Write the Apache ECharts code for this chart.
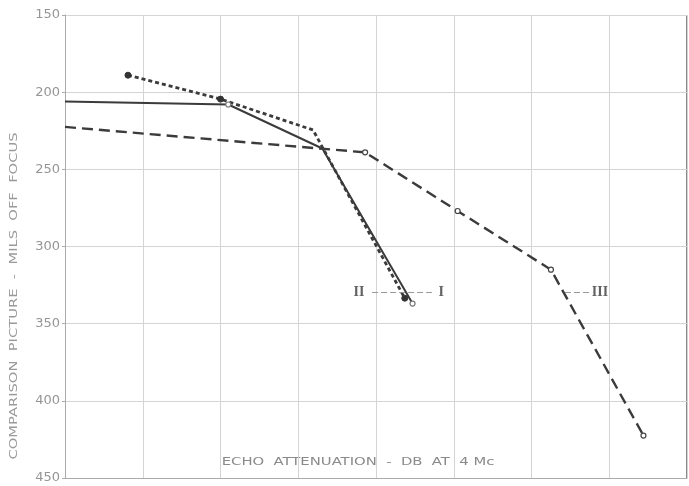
<!DOCTYPE html>
<html>
<head>
<meta charset="utf-8">
<script src="https://cdn.jsdelivr.net/npm/echarts@6/dist/echarts.min.js"></script>
<style>html,body{margin:0;padding:0;background:#fff;}#c{width:689px;height:486px;}</style>
</head>
<body>
<div id="c"></div>
<script>
// Curve I (solid)
const xI = [0, 2.10, 3.31, 4.47];
const yI = [206, 208, 236.5, 337];
// Curve II (dotted)
const xII = [0.81, 2.0, 3.19, 4.37];
const yII = [189, 204.5, 224.5, 333.5];
// Curve III (dashed)
const xIII = [0, 3.86, 5.05, 6.25, 7.44];
const yIII = [222.5, 239, 277, 315, 422.5];
// y tick labels
const yTicks = [150, 200, 250, 300, 350, 400, 450];
// curve annotations
const noteText = ['II', 'I', 'III'];
const noteX = [3.78, 4.84, 6.88];
const noteY = [329.5, 329.5, 329.5];

const zip = (xs, ys) => xs.map((x, i) => [x, ys[i]]);
const lineCol = '#3b3b3b';
const gridCol = '#d4d4d4';

const chart = echarts.init(document.getElementById('c'));
chart.setOption({
  animation: false,
  backgroundColor: '#fff',
  grid: { left: 65, right: 2, top: 15, bottom: 8, containLabel: false },
  xAxis: {
    type: 'value', min: 0, max: 8, interval: 1,
    axisLine: { show: true, lineStyle: { color: '#aaa', width: 1 } },
    axisTick: { show: false },
    axisLabel: { show: false },
    splitLine: { show: true, lineStyle: { color: gridCol, width: 1 } }
  },
  yAxis: {
    type: 'value', inverse: true, min: 150, max: 450, interval: 50,
    axisLine: { show: true, lineStyle: { color: '#aaa', width: 1 } },
    axisTick: { show: true, length: 3, lineStyle: { color: '#aaa' } },
    axisLabel: {
      margin: 5, color: '#959595', fontSize: 13, fontFamily: 'DejaVu Sans',
      formatter: v => yTicks.includes(v) ? String(v) : ''
    },
    splitLine: { show: true, lineStyle: { color: gridCol, width: 1 } }
  },
  graphic: [
    {
      type: 'text', x: 14, y: 296, rotation: Math.PI / 2, scaleX: 1.47,
      style: {
        text: 'COMPARISON  PICTURE  -  MILS  OFF  FOCUS',
        fill: '#9a9a9a', font: '10px "DejaVu Sans"',
        align: 'center', verticalAlign: 'middle'
      }
    },
    {
      type: 'text', x: 358, y: 462, scaleX: 1.48,
      style: {
        text: 'ECHO  ATTENUATION  -  DB  AT  4 Mc',
        fill: '#8a8a8a', font: '10px "DejaVu Sans"',
        align: 'center', verticalAlign: 'middle'
      }
    },
    {
      type: 'rect', shape: { x: 686, y: 15, width: 1, height: 463 },
      style: { fill: '#888' }, silent: true
    }
  ],
  series: [
    {
      name: 'I', type: 'line', data: zip(xI, yI),
      lineStyle: { color: lineCol, width: 2, type: 'solid' },
      itemStyle: { color: '#fff', borderColor: '#777', borderWidth: 1.2 },
      symbol: (v, p) => (p.dataIndex === 1 || p.dataIndex === 3) ? 'circle' : 'none',
      symbolSize: 5, z: 3
    },
    {
      name: 'II', type: 'line', data: zip(xII, yII),
      lineStyle: { color: lineCol, width: 2.8, type: [4, 3] },
      itemStyle: { color: '#333', borderColor: '#333' },
      symbol: (v, p) => p.dataIndex === 2 ? 'none' : 'circle',
      symbolSize: 6, z: 3
    },
    {
      name: 'III', type: 'line', data: zip(xIII, yIII),
      lineStyle: { color: lineCol, width: 2.4, type: [11, 6] },
      itemStyle: { color: '#fff', borderColor: '#444', borderWidth: 1.2 },
      symbol: (v, p) => p.dataIndex === 0 ? 'none' : 'circle',
      symbolSize: 5, z: 3,
      markLine: {
        silent: true, symbol: ['none', 'none'],
        label: { show: false },
        lineStyle: { color: '#999', width: 1, type: [6, 3] },
        data: [
          [{ coord: [3.95, 329.5] }, { coord: [4.72, 329.5] }],
          [{ coord: [6.43, 329.5] }, { coord: [6.78, 329.5] }]
        ]
      }
    },
    {
      name: 'notes', type: 'scatter', symbolSize: 0,
      data: noteText.map((t, i) => ({ name: t, value: [noteX[i], noteY[i]] })),
      label: {
        show: true, position: 'inside', formatter: p => p.name,
        color: '#3a3a3a', fontSize: 14, fontWeight: 'bold', fontFamily: 'Liberation Serif'
      },
      z: 4
    }
  ]
});
</script>
</body>
</html>
